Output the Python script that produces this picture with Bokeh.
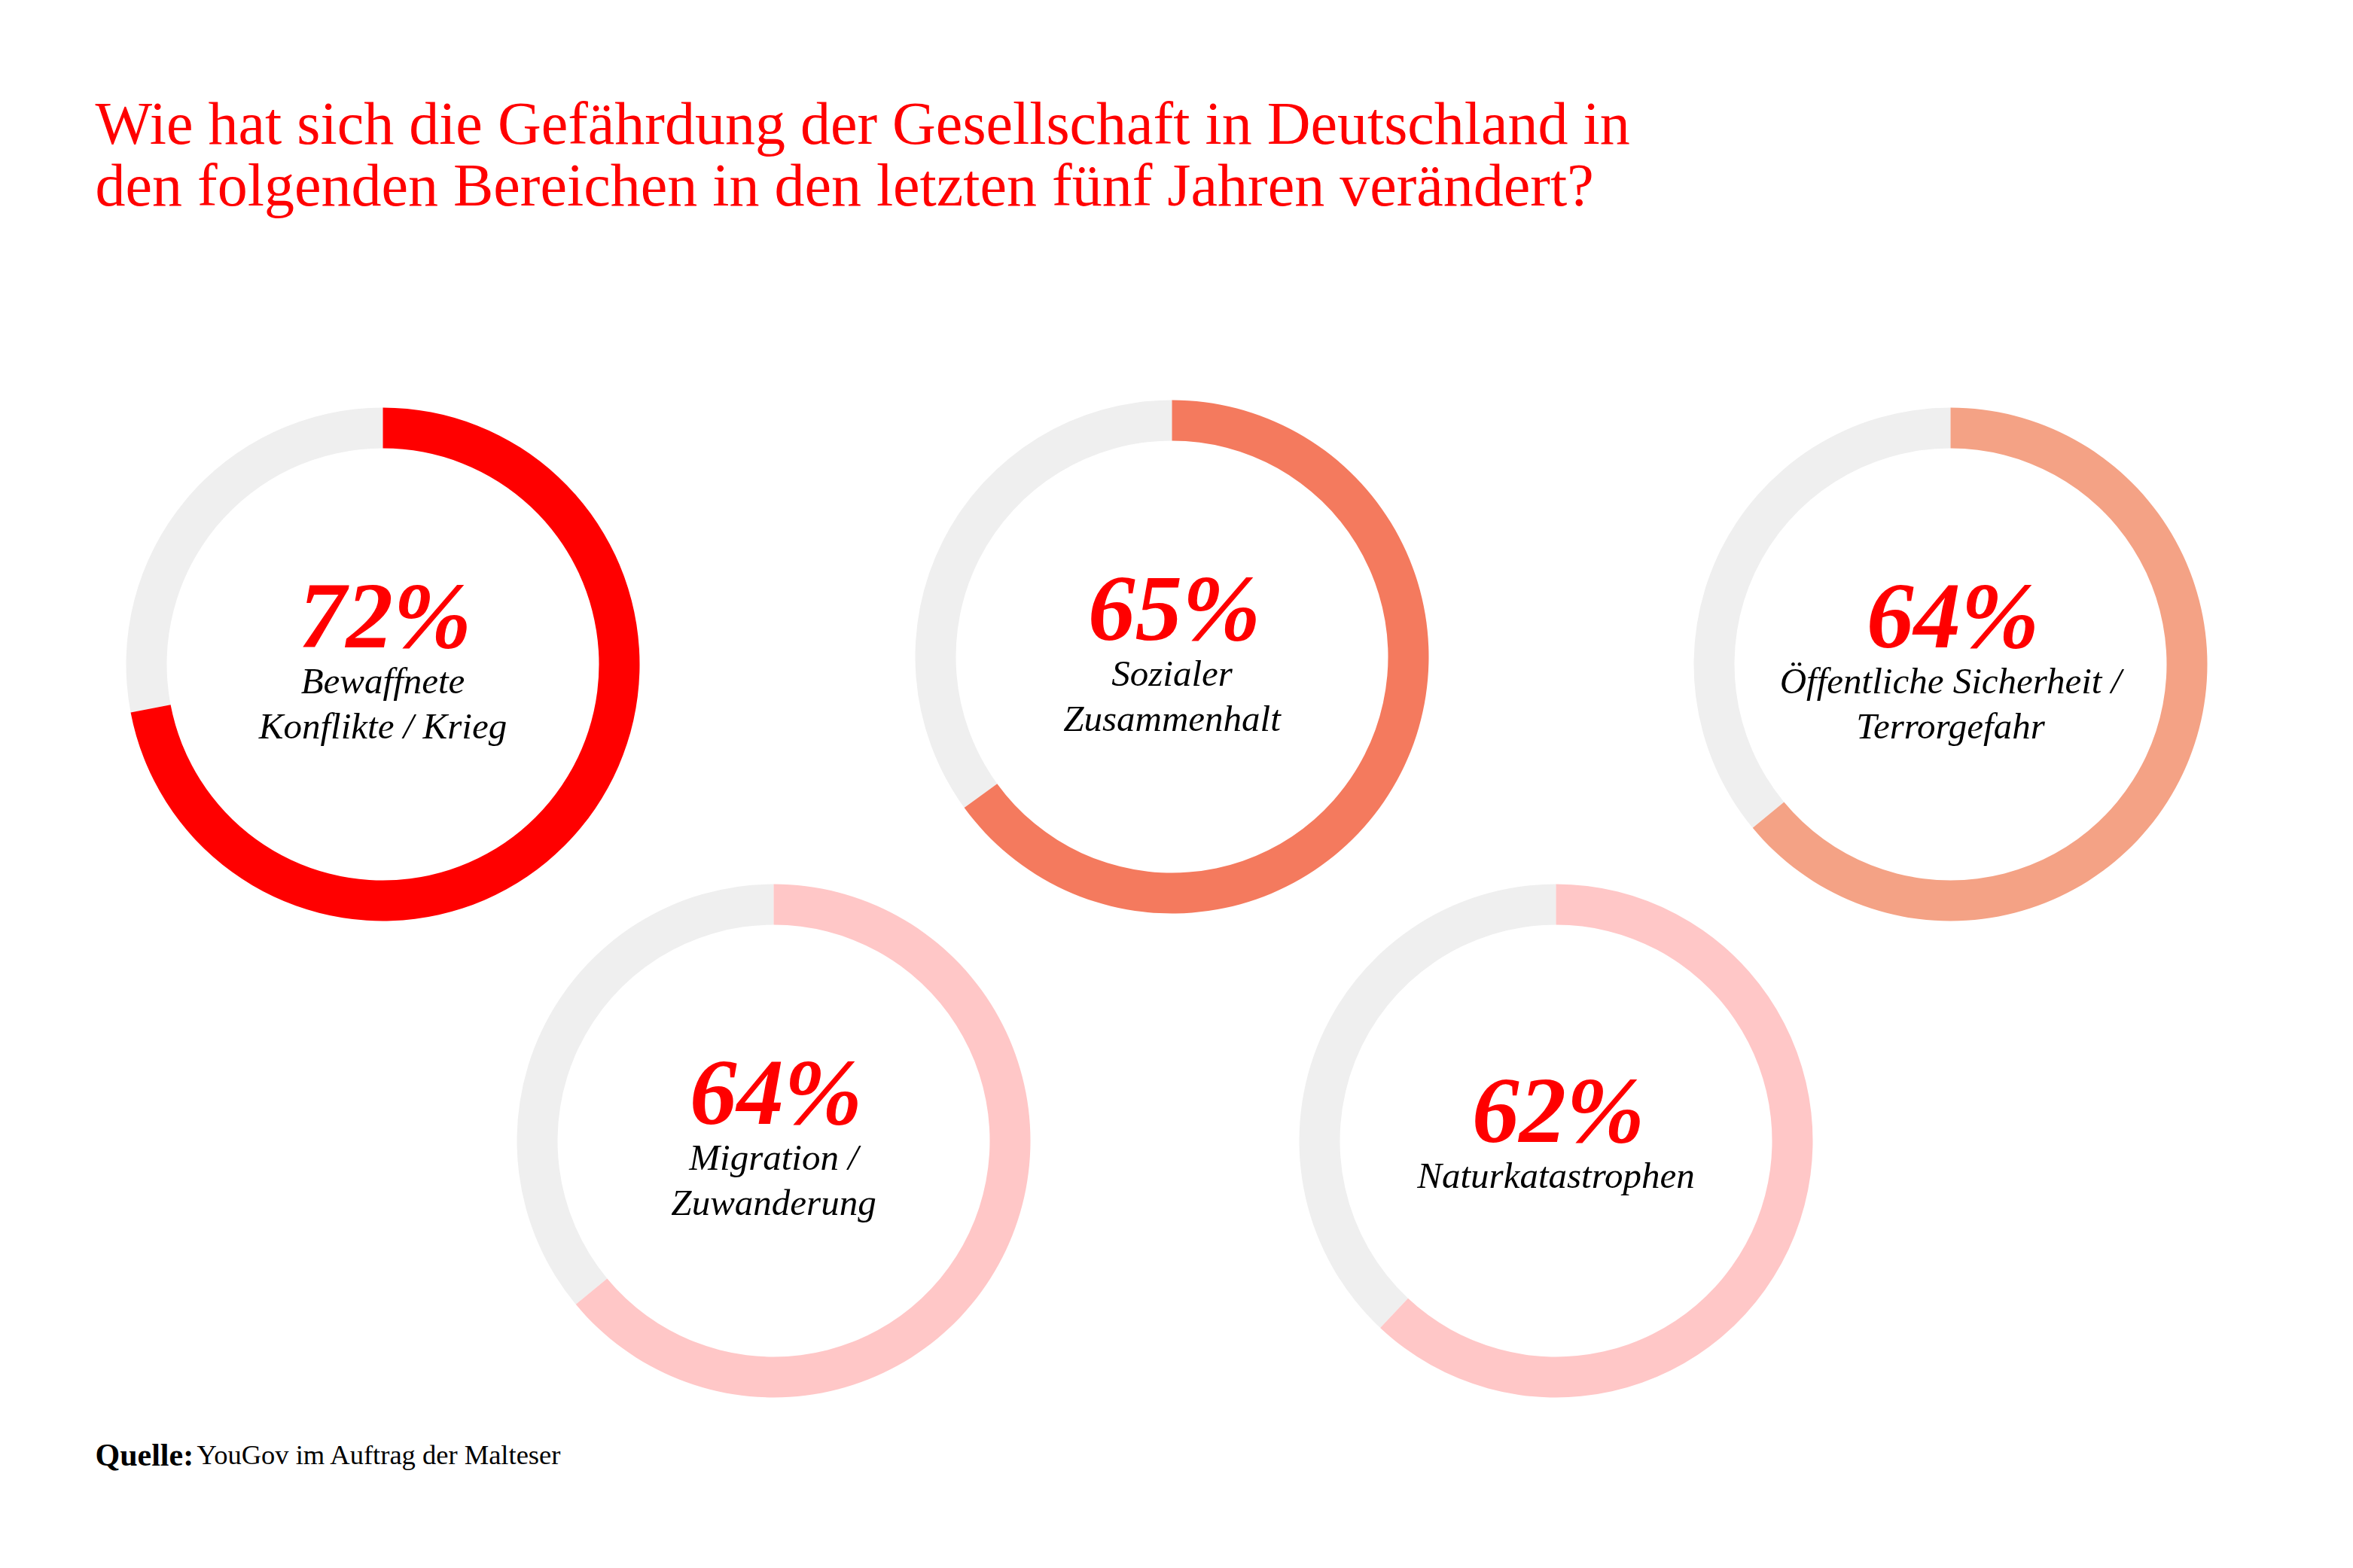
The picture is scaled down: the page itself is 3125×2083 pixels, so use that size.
import math
from bokeh.plotting import figure
from bokeh.models import ColumnDataSource
from bokeh.core.properties import value
from bokeh.embed import file_html
from bokeh.resources import INLINE

# ---- data ----
title_lines = ["Wie hat sich die Gefährdung der Gesellschaft in Deutschland in",
               "den folgenden Bereichen in den letzten fünf Jahren verändert?"]
categories = [["Bewaffnete", "Konflikte / Krieg"],
              ["Sozialer", "Zusammenhalt"],
              ["Öffentliche Sicherheit /", "Terrorgefahr"],
              ["Migration /", "Zuwanderung"],
              ["Naturkatastrophen"]]
values_pct = [72, 65, 64, 64, 62]
colors = ["#FF0000", "#F47A5E", "#F4A285", "#FFC7C7", "#FFC7C7"]
source_bold = "Quelle:"
source_text = "YouGov im Auftrag der Malteser"

# ---- layout (pixel positions, y from top) ----
W, H = 3125, 2083
centers = [(508, 882), (1556, 872), (2590, 882), (1027, 1515), (2066, 1515)]
R_OUT, R_IN = 341, 287
GREY = "#EFEFEF"
FONT = "Liberation Serif"

p = figure(width=W, height=H, x_range=(0, W), y_range=(0, H),
           output_backend="svg", toolbar_location=None, min_border=0,
           background_fill_color="white", border_fill_color="white")
p.axis.visible = False
p.grid.visible = False
p.outline_line_color = None

def Y(y):
    return H - y

xs = [c[0] for c in centers]
ys = [Y(c[1]) for c in centers]
starts = [math.pi / 2 - 2 * math.pi * v / 100 for v in values_pct]
ends = [math.pi / 2] * len(values_pct)
src = ColumnDataSource(dict(x=xs, y=ys, start=starts, end=ends, color=colors,
                            gstart=ends, gend=[s + 2 * math.pi for s in starts]))

p.annular_wedge(x="x", y="y", inner_radius=R_IN, outer_radius=R_OUT,
                start_angle="gstart", end_angle="gend", fill_color=GREY,
                line_color=None, source=src)
p.annular_wedge(x="x", y="y", inner_radius=R_IN, outer_radius=R_OUT,
                start_angle="start", end_angle="end", fill_color="color",
                line_color=None, source=src)

# texts inside donuts (baseline offsets, corrected for renderer shift)
PCT_SHIFT = 46
LBL_SHIFT = 20
px, py, pt = [], [], []
lx, ly, lt = [], [], []
for (cx, cy), v, lines in zip(centers, values_pct, categories):
    shift = 24 * (2 - len(lines))
    px.append(cx + 3)
    py.append(Y(cy - 19 + shift - PCT_SHIFT))
    pt.append(f"{v}%")
    for j, ln in enumerate(lines):
        lx.append(cx)
        ly.append(Y(cy + 42 + shift + 60 * j - LBL_SHIFT))
        lt.append(ln)

p.text(x=px, y=py, text=pt, text_font=value(FONT), text_font_size="125px",
       text_font_style="bold italic", text_color="#FF0000",
       text_align="center", text_baseline="alphabetic")
p.text(x=lx, y=ly, text=lt, text_font=value(FONT), text_font_size="49px",
       text_font_style="italic", text_color="#000000",
       text_align="center", text_baseline="alphabetic")

# title
TSHIFT = 22
p.text(x=[126, 126], y=[Y(185 - TSHIFT), Y(267 - TSHIFT)], text=title_lines,
       text_font=value(FONT), text_font_size="80px", text_color="#FF0000",
       text_align="left", text_baseline="alphabetic")

# source
FSHIFT = 16
p.text(x=[126], y=[Y(1948 - FSHIFT)], text=[source_bold], text_font=value(FONT),
       text_font_size="42px", text_font_style="bold", text_color="#000000",
       text_align="left", text_baseline="alphabetic")
p.text(x=[261], y=[Y(1948 - FSHIFT)], text=[source_text], text_font=value(FONT),
       text_font_size="36.5px", text_color="#000000",
       text_align="left", text_baseline="alphabetic")

open("out.html", "w").write(file_html(p, INLINE))
